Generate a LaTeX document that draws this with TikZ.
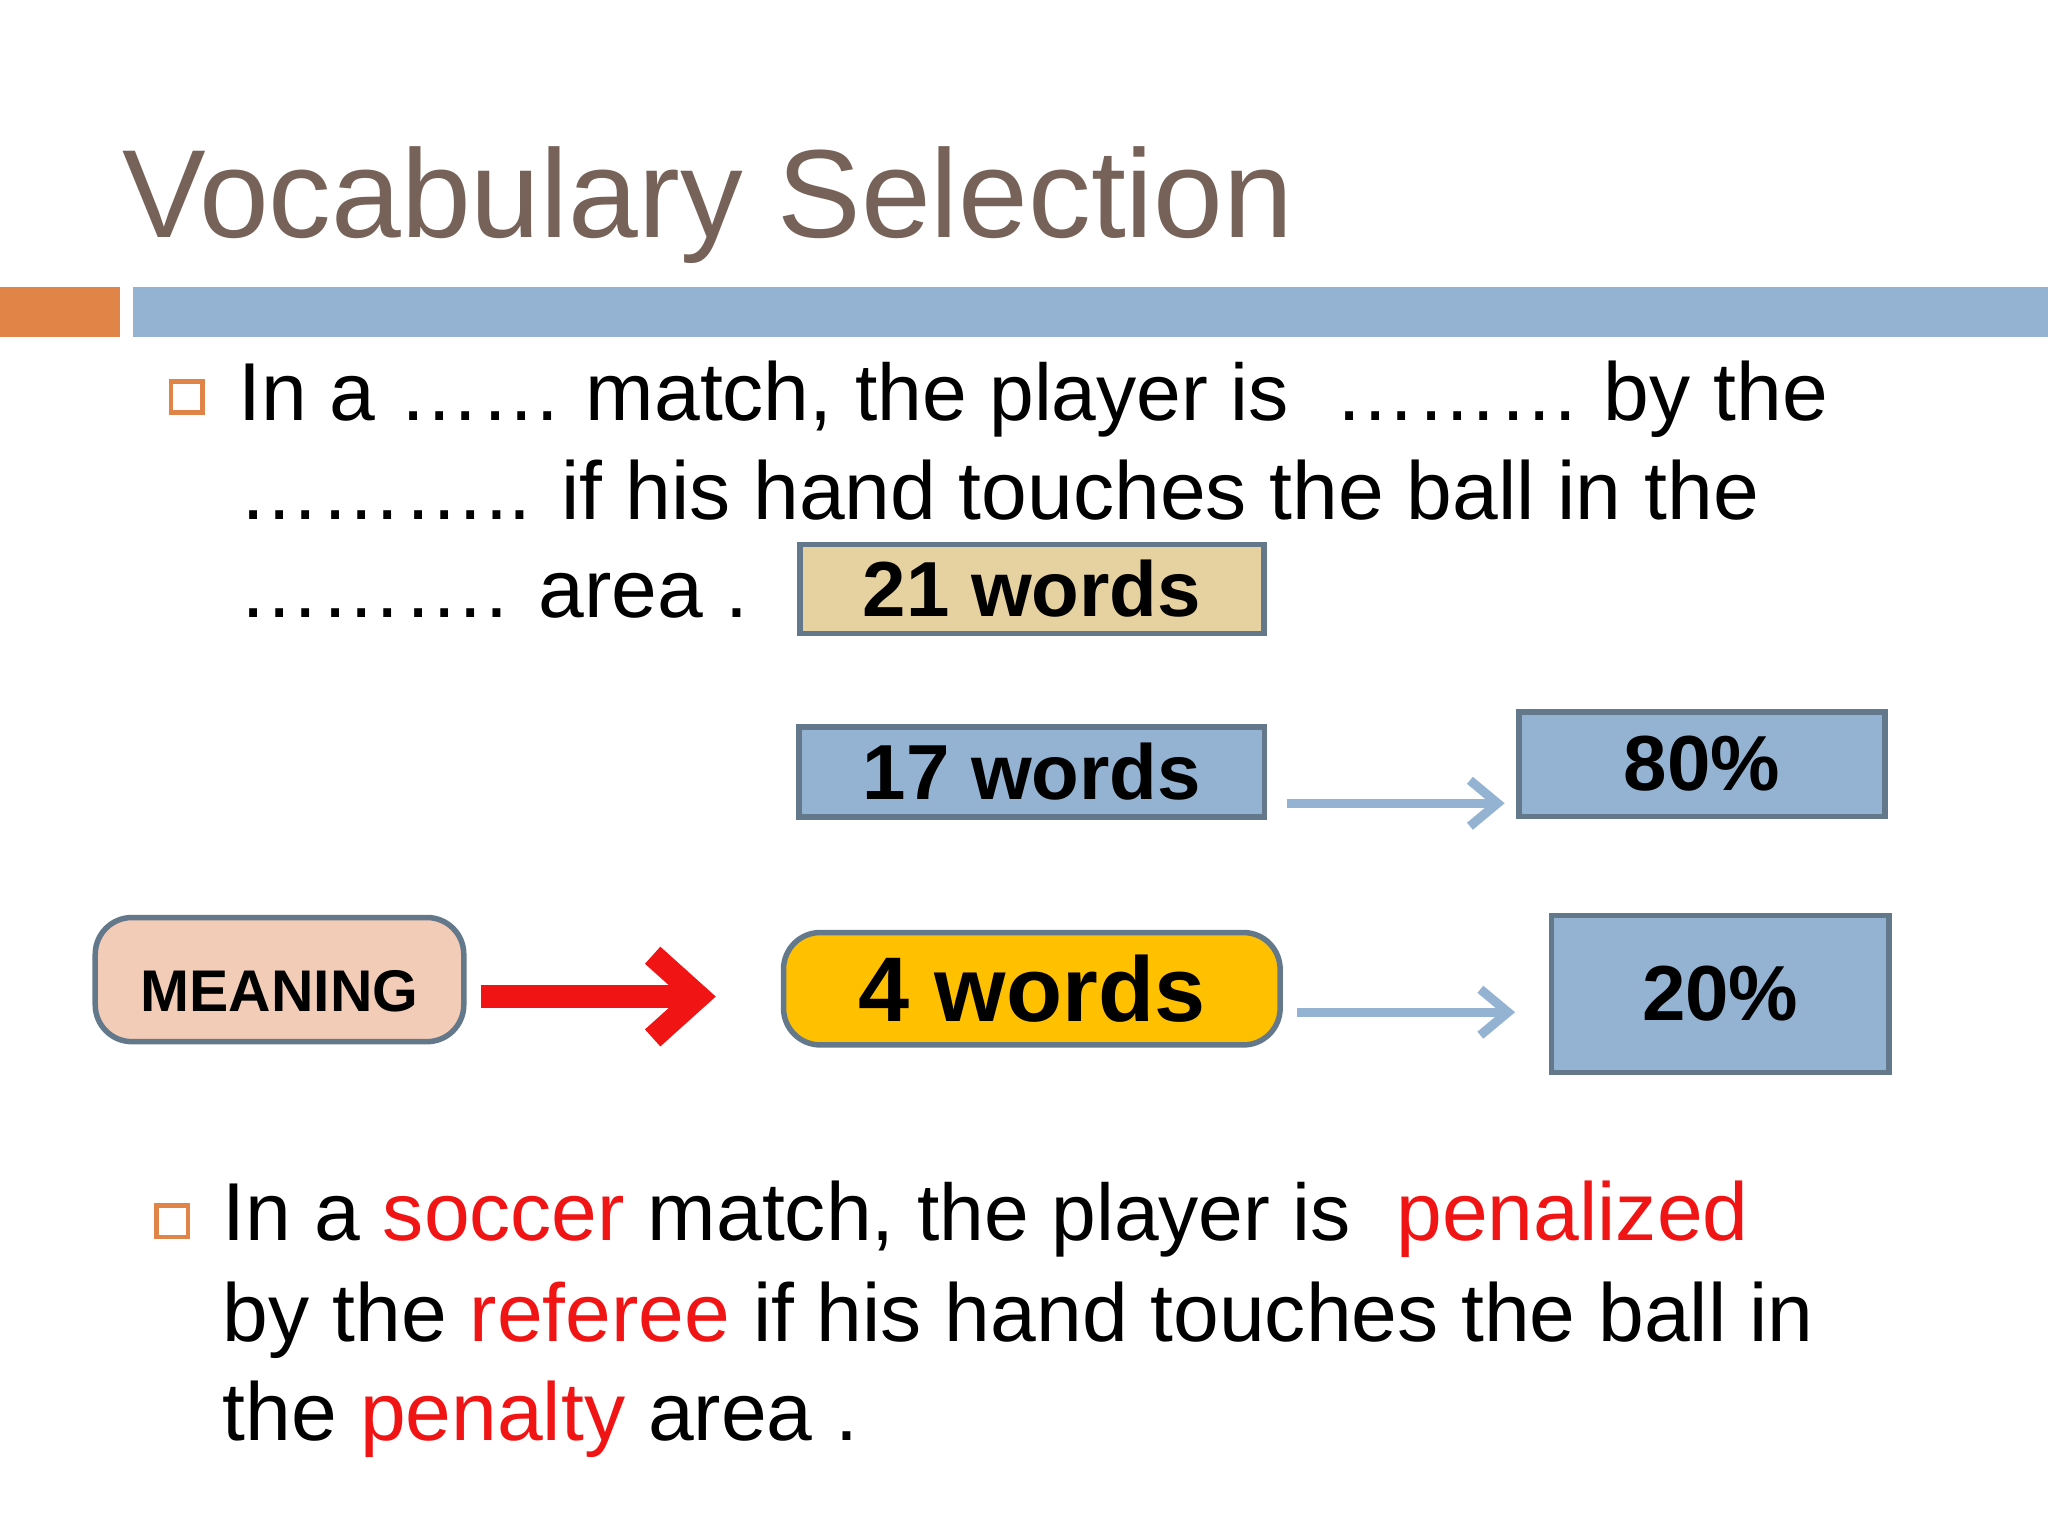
\documentclass[tikz,border=0pt]{standalone}
\usepackage{fontspec}
\setmainfont{Liberation Sans}
\usetikzlibrary{arrows.meta}
\definecolor{titlec}{RGB}{118,98,88}
\definecolor{orangec}{RGB}{224,132,72}
\definecolor{bluec}{RGB}{148,179,210}
\definecolor{tanc}{RGB}{230,210,160}
\definecolor{pinkc}{RGB}{242,204,182}
\definecolor{goldc}{RGB}{255,192,0}
\definecolor{edgec}{RGB}{100,120,140}
\definecolor{redc}{RGB}{240,20,20}
\tikzset{
 box/.style={draw=edgec,line width=1.2pt,inner sep=0pt,font=\bfseries\fontsize{17}{20}\selectfont},
 txt/.style={anchor=base west,inner sep=0pt,font=\fontsize{17.9}{22}\selectfont},
 bul/.style={draw=orangec,line width=1pt,minimum size=0.24cm,inner sep=0pt},
 thinarr/.style={draw=bluec,line width=2pt,-{Straight Barb[length=6pt,width=10pt]}},
}
\newcommand{\rd}[1]{\textcolor{redc}{#1}}
\newcommand{\sm}[1]{{\fontsize{17.5}{20}\selectfont #1}}
\begin{document}
\begin{tikzpicture}[x=0.01cm,y=-0.01cm]
\useasboundingbox[fill=white] (0,0) rectangle (1568,1176);
\fill[orangec] (0,220) rectangle (92,258);
\fill[bluec] (102,220) rectangle (1568,258);
\node[anchor=base west,inner sep=0pt,text=titlec,font=\fontsize{27.3}{33}\selectfont] (title) at (93,182) {Vocabulary Selection};
\node[bul] (b1) at (143,304) {};
\node[txt] (l1) at (182,322) {In a …… match, \sm{the player is}\ \ ……… by the};
\node[txt] (l2) at (182,398) {……….. if his hand touches the ball in the};
\node[txt] (l3) at (182,473) {………. area .};
\node[box,fill=tanc,minimum width=3.55cm,minimum height=0.68cm] (w21) at (790,451) {21 words};
\node[box,fill=bluec,minimum width=3.56cm,minimum height=0.69cm] (w17) at (790,591) {17 words};
\node[box,fill=bluec,minimum width=2.8cm,minimum height=0.8cm] (p80) at (1303,585) {80\%};
\node[box,fill=pinkc,rounded corners=8pt,minimum width=2.82cm,minimum height=0.95cm,font=\bfseries\fontsize{12.8}{15}\selectfont] (mean) at (214,750) {\raisebox{-0.5cm}{MEANING}};
\node[box,fill=goldc,rounded corners=8pt,minimum width=3.8cm,minimum height=0.86cm,font=\bfseries\fontsize{20}{24}\selectfont] (w4) at (790,757) {4 words};
\node[box,fill=bluec,minimum width=2.58cm,minimum height=1.2cm] (p20) at (1317,761) {20\%};
\coordinate (a1s) at (985,615); \coordinate (a1e) at (1152,615);
\coordinate (a2s) at (993,775); \coordinate (a2e) at (1160,775);
\draw[thinarr] (a1s) -- (a1e);
\draw[thinarr] (a2s) -- (a2e);
\coordinate (rs) at (368,763); \coordinate (re) at (548,763);
\draw[redc,line width=5pt,-{Straight Barb[length=10pt,width=18pt,line width=5pt]}] (rs) -- (re);
\node[bul] (b2) at (132,935) {};
\node[txt] (m1) at (170,950) {In a \rd{soccer} match, \sm{the player is}\ \ \rd{penalized}};
\node[txt] (m2) at (170,1027) {by the \rd{referee} if his hand touches the ball in};
\node[txt] (m3) at (170,1103) {the \rd{penalty} area .};
\end{tikzpicture}
\end{document}
